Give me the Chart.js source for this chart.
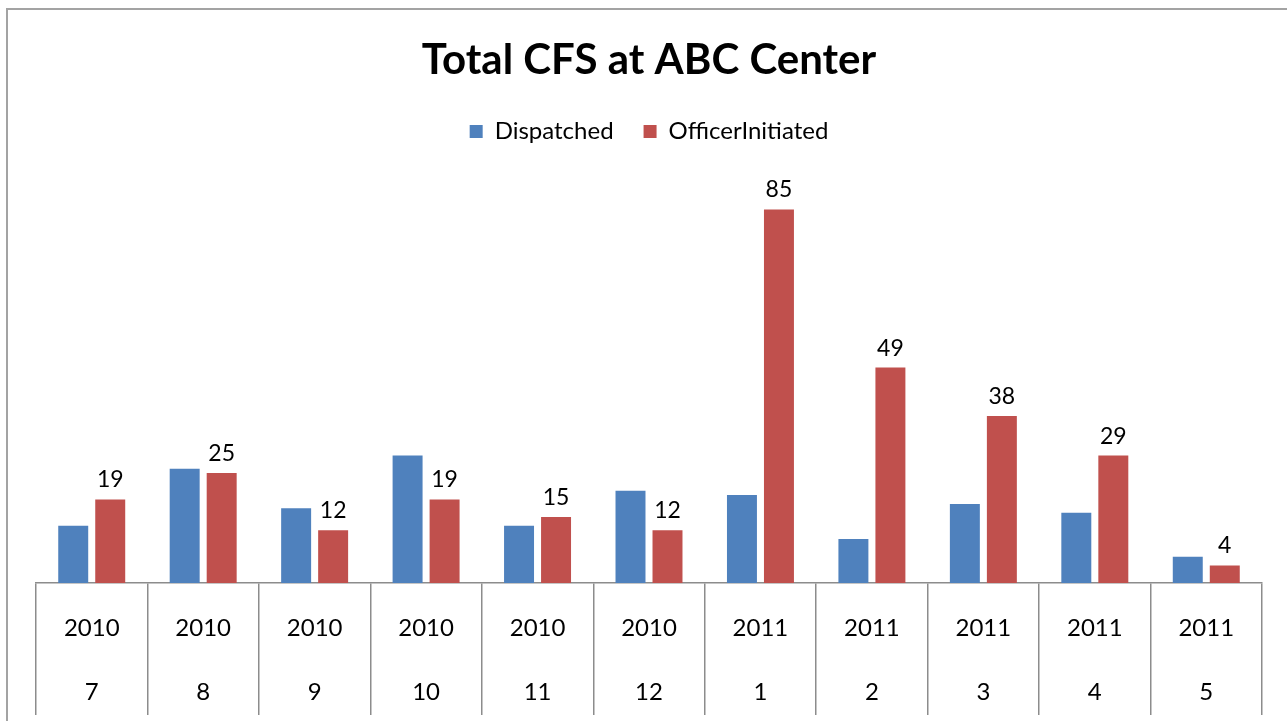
<!DOCTYPE html>
<html>
<head>
<meta charset="utf-8">
<script src="https://cdn.jsdelivr.net/npm/chart.js@4"></script>
<style>
  html, body { margin: 0; padding: 0; background: #fff; }
  #wrap { position: relative; width: 1287px; height: 721px; overflow: hidden; }
  #frame { position: absolute; left: 6px; top: 8px; width: 1400px; height: 800px;
           border-left: 2px solid #a3a3a3; border-top: 2px solid #a3a3a3; }
  canvas { position: absolute; left: 0; top: 0; }
</style>
</head>
<body>
<div id="wrap">
  <div id="frame"></div>
  <canvas id="cfsChart" width="1287" height="721"></canvas>
</div>
<script>
// Chart data
const years = ['2010', '2010', '2010', '2010', '2010', '2010', '2011', '2011', '2011', '2011', '2011'];
const months = ['7', '8', '9', '10', '11', '12', '1', '2', '3', '4', '5'];
const dispatched = [13, 26, 17, 29, 13, 21, 20, 10, 18, 16, 6];
const officerInitiated = [19, 25, 12, 19, 15, 12, 85, 49, 38, 29, 4];

const labels = years.map((y, i) => [y, months[i]]);
const FONT = 'Lato';

// Value labels above the red bars
const valueLabels = {
  id: 'valueLabels',
  beforeLayout(chart) {
    // a bit more room under the legend
    const legend = chart.legend;
    if (legend && !legend._patched) {
      const fit = legend.fit;
      legend.fit = function () {
        fit.call(this);
        this.height += 34;
      };
      legend._patched = true;
    }
  },
  afterDatasetsDraw(chart) {
    const ctx = chart.ctx;
    const meta = chart.getDatasetMeta(1);
    ctx.save();
    ctx.font = '23px ' + FONT;
    ctx.fillStyle = '#000';
    ctx.textAlign = 'center';
    ctx.textBaseline = 'alphabetic';
    meta.data.forEach((bar, i) => {
      ctx.fillText(officerInitiated[i], bar.x, bar.y - 12);
    });
    ctx.restore();
  }
};

const ctx = document.getElementById('cfsChart').getContext('2d');
const cfsChart = new Chart(ctx, {
  type: 'bar',
  data: {
    labels: labels,
    datasets: [{
      label: 'Dispatched',
      data: dispatched,
      backgroundColor: '#4f81bd',
    }, {
      label: 'OfficerInitiated',
      data: officerInitiated,
      backgroundColor: '#c0504d',
    }]
  },
  options: {
    responsive: false,
    animation: false,
    categoryPercentage: 0.664,
    barPercentage: 0.81,
    layout: { padding: { left: 36, right: 25, top: 20, bottom: 0 } },
    plugins: {
      title: {
        display: true,
        text: 'Total CFS at ABC Center',
        color: '#000',
        font: { family: FONT, size: 42, weight: 'bold' },
        padding: { top: 15, bottom: 4 }
      },
      legend: {
        display: true,
        labels: {
          boxWidth: 13,
          boxHeight: 13,
          padding: 30,
          color: '#000',
          font: { family: FONT, size: 24 }
        }
      },
      tooltip: { enabled: false }
    },
    scales: {
      x: {
        afterFit(scale) { scale.height = 138; },
        grid: {
          display: true,
          offset: true,
          drawOnChartArea: false,
          drawTicks: true,
          tickLength: 132,
          color: '#8c8c8c',
          lineWidth: 1.5
        },
        border: { display: true, color: '#8c8c8c', width: 1.5 },
        ticks: {
          padding: -119,
          color: '#000',
          maxRotation: 0,
          autoSkip: false,
          font: { family: FONT, size: 24, lineHeight: '64px' }
        }
      },
      y: {
        display: false,
        min: 0,
        max: 90
      }
    }
  },
  plugins: [valueLabels]
});
</script>
</body>
</html>
